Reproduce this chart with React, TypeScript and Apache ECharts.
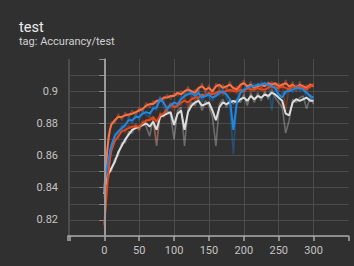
import React, { useEffect, useRef } from "react";
import * as echarts from "echarts";

const steps = [0, 2, 4, 6, 8, 10, 15, 20, 25, 30, 35, 40, 45, 50, 55, 60, 65, 70, 75, 80, 85, 90, 95, 100, 105, 110, 115, 120, 125, 130, 135, 140, 145, 150, 155, 160, 165, 170, 175, 180, 185, 190, 195, 200, 205, 210, 215, 220, 225, 230, 235, 240, 245, 250, 255, 260, 265, 270, 275, 280, 285, 290, 295, 300];

const orangeSmooth = [0.838, 0.85, 0.862, 0.87, 0.876, 0.879, 0.882, 0.884, 0.884, 0.885, 0.8855, 0.886, 0.887, 0.888, 0.889, 0.891, 0.892, 0.892, 0.894, 0.894, 0.896, 0.896, 0.897, 0.897, 0.899, 0.898, 0.9, 0.901, 0.9, 0.899, 0.902, 0.903, 0.901, 0.902, 0.9, 0.903, 0.904, 0.902, 0.903, 0.904, 0.902, 0.901, 0.904, 0.905, 0.903, 0.904, 0.902, 0.903, 0.904, 0.903, 0.905, 0.904, 0.905, 0.903, 0.904, 0.905, 0.903, 0.904, 0.902, 0.904, 0.903, 0.902, 0.904, 0.903];
const redSmooth = [0.817, 0.828, 0.84, 0.85, 0.857, 0.863, 0.869, 0.872, 0.875, 0.876, 0.877, 0.878, 0.878, 0.878, 0.88, 0.882, 0.882, 0.884, 0.881, 0.885, 0.886, 0.889, 0.892, 0.89, 0.891, 0.893, 0.894, 0.893, 0.895, 0.896, 0.896, 0.898, 0.897, 0.899, 0.898, 0.899, 0.9, 0.899, 0.9, 0.901, 0.9, 0.9, 0.901, 0.9, 0.902, 0.901, 0.901, 0.902, 0.901, 0.901, 0.902, 0.903, 0.902, 0.902, 0.903, 0.902, 0.901, 0.903, 0.902, 0.903, 0.902, 0.901, 0.903, 0.904];
const blueSmooth = [0.838, 0.848, 0.853, 0.857, 0.862, 0.866, 0.872, 0.875, 0.877, 0.879, 0.882, 0.882, 0.884, 0.884, 0.886, 0.887, 0.886, 0.889, 0.89, 0.895, 0.893, 0.889, 0.891, 0.893, 0.892, 0.895, 0.897, 0.898, 0.899, 0.897, 0.899, 0.896, 0.897, 0.898, 0.896, 0.897, 0.899, 0.9, 0.898, 0.895, 0.876, 0.893, 0.899, 0.901, 0.902, 0.903, 0.903, 0.904, 0.904, 0.905, 0.904, 0.903, 0.902, 0.898, 0.896, 0.9, 0.9, 0.901, 0.902, 0.902, 0.901, 0.899, 0.897, 0.896];
const greySmooth = [0.836, 0.842, 0.846, 0.849, 0.85, 0.852, 0.856, 0.862, 0.866, 0.87, 0.873, 0.876, 0.877, 0.878, 0.879, 0.88, 0.878, 0.881, 0.876, 0.884, 0.885, 0.886, 0.887, 0.879, 0.886, 0.888, 0.876, 0.887, 0.891, 0.893, 0.894, 0.891, 0.892, 0.893, 0.888, 0.882, 0.89, 0.893, 0.892, 0.893, 0.894, 0.893, 0.895, 0.896, 0.894, 0.897, 0.895, 0.897, 0.896, 0.898, 0.897, 0.899, 0.898, 0.896, 0.894, 0.886, 0.885, 0.893, 0.895, 0.894, 0.895, 0.896, 0.894, 0.894];

const orangeRaw = [0.836, 0.852, 0.86, 0.873, 0.874, 0.881, 0.88, 0.886, 0.882, 0.887, 0.884, 0.888, 0.885, 0.89, 0.887, 0.893, 0.89, 0.894, 0.892, 0.896, 0.894, 0.898, 0.895, 0.899, 0.897, 0.9, 0.898, 0.903, 0.898, 0.901, 0.9, 0.905, 0.899, 0.904, 0.898, 0.905, 0.902, 0.904, 0.901, 0.906, 0.9, 0.903, 0.902, 0.907, 0.901, 0.906, 0.9, 0.905, 0.902, 0.905, 0.903, 0.906, 0.903, 0.905, 0.902, 0.907, 0.901, 0.906, 0.9, 0.906, 0.901, 0.904, 0.902, 0.905];
const redRaw = [0.815, 0.826, 0.843, 0.848, 0.86, 0.861, 0.872, 0.87, 0.877, 0.874, 0.879, 0.876, 0.88, 0.875, 0.882, 0.88, 0.884, 0.882, 0.868, 0.887, 0.884, 0.891, 0.89, 0.888, 0.893, 0.891, 0.896, 0.89, 0.897, 0.894, 0.898, 0.896, 0.899, 0.897, 0.9, 0.897, 0.902, 0.897, 0.902, 0.899, 0.902, 0.898, 0.903, 0.898, 0.904, 0.899, 0.903, 0.9, 0.903, 0.899, 0.904, 0.901, 0.904, 0.9, 0.905, 0.888, 0.903, 0.901, 0.904, 0.901, 0.904, 0.899, 0.905, 0.903];
const blueRaw = [0.836, 0.846, 0.856, 0.854, 0.864, 0.864, 0.874, 0.873, 0.879, 0.877, 0.884, 0.88, 0.886, 0.882, 0.888, 0.885, 0.884, 0.891, 0.888, 0.897, 0.89, 0.886, 0.893, 0.891, 0.89, 0.897, 0.896, 0.9, 0.897, 0.895, 0.901, 0.893, 0.899, 0.896, 0.894, 0.899, 0.897, 0.902, 0.896, 0.89, 0.861, 0.895, 0.901, 0.899, 0.904, 0.901, 0.905, 0.902, 0.906, 0.903, 0.906, 0.888, 0.904, 0.895, 0.899, 0.898, 0.902, 0.899, 0.904, 0.9, 0.903, 0.895, 0.898, 0.894];
const greyRaw = [0.834, 0.84, 0.848, 0.846, 0.852, 0.85, 0.858, 0.86, 0.868, 0.868, 0.875, 0.874, 0.879, 0.876, 0.881, 0.878, 0.872, 0.883, 0.866, 0.886, 0.884, 0.888, 0.885, 0.87, 0.888, 0.89, 0.866, 0.889, 0.893, 0.891, 0.896, 0.888, 0.894, 0.891, 0.884, 0.866, 0.892, 0.895, 0.89, 0.895, 0.892, 0.895, 0.893, 0.898, 0.891, 0.899, 0.893, 0.899, 0.894, 0.9, 0.895, 0.901, 0.896, 0.893, 0.89, 0.874, 0.882, 0.895, 0.893, 0.896, 0.897, 0.889, 0.896, 0.892];

const titleText = "test";
const subtitleText = "tag: Accurancy/test";

const COLORS = {
  orange: "#ff7043",
  red: "#e6491b",
  blue: "#1e88e5",
  grey: "#dddddd",
};

function pairs(vals: number[]) {
  return steps.map((s, i) => [s, vals[i]]);
}

export default function App() {
  const ref = useRef<HTMLDivElement>(null);
  useEffect(() => {
    if (!ref.current) return;
    const chart = echarts.init(ref.current, undefined, { renderer: "svg" });
    const font = "Roboto";
    const rawSeries = (name: string, vals: number[], color: string, extra: any = {}) => ({
      type: "line",
      name: name + " raw",
      data: pairs(vals),
      showSymbol: false,
      symbol: "none",
      silent: true,
      lineStyle: { color, width: 1.6, opacity: 0.35 },
      z: 2,
      ...extra,
    });
    const smoothSeries = (name: string, vals: number[], color: string) => ({
      type: "line",
      name,
      data: pairs(vals),
      showSymbol: false,
      symbol: "none",
      silent: true,
      lineStyle: { color, width: 2 },
      z: 3,
    });
    chart.setOption({
      animation: false,
      backgroundColor: "#303030",
      textStyle: { fontFamily: font },
      graphic: [
        {
          type: "text",
          left: 19,
          top: 20,
          style: { text: titleText, fill: "#ececec", font: `14.5px ${font}` },
        },
        {
          type: "text",
          left: 19,
          top: 36,
          style: { text: subtitleText, fill: "#d0d0d0", font: `11px ${font}` },
        },
      ],
      grid: { left: 68, right: 5.5, top: 59, bottom: 30, containLabel: false },
      xAxis: {
        type: "value",
        min: -52,
        max: 350,
        minInterval: 50,
        maxInterval: 50,
        axisLine: { show: true, onZero: false, lineStyle: { color: "#a8a8a8", width: 1.5 } },
        axisTick: { show: true, length: 5, lineStyle: { color: "#a8a8a8", width: 1.5 } },
        axisLabel: {
          interval: 0,
          margin: 9,
          color: "#c4c4c4",
          fontSize: 11,
          fontFamily: font,
          formatter: (v: number) => (v >= 0 && v <= 300 && v % 50 === 0 ? String(v) : ""),
        },
        splitLine: { show: true, showMaxLine: false, lineStyle: { color: "#4c4c4c", width: 1 } },
      },
      yAxis: {
        type: "value",
        min: 0.81,
        max: 0.92,
        minInterval: 0.01,
        maxInterval: 0.01,
        axisLine: { show: true, lineStyle: { color: "#8e8e8e", width: 1.5 } },
        axisTick: { show: true, length: 5, lineStyle: { color: "#8e8e8e", width: 1 } },
        axisLabel: {
          interval: 0,
          margin: 10,
          color: "#c4c4c4",
          fontSize: 11,
          fontFamily: font,
          formatter: (v: number) => {
            const k = Math.round(v * 100);
            return k % 2 === 0 && k >= 82 && k <= 90 ? String(parseFloat(v.toFixed(2))) : "";
          },
        },
        splitLine: { show: true, showMaxLine: false, lineStyle: { color: "#4c4c4c", width: 1 } },
      },
      series: [
        rawSeries("grey", greyRaw, COLORS.grey, {
          markLine: {
            silent: true,
            symbol: ["none", "none"],
            label: { show: false },
            lineStyle: { color: "#9a9a9a", width: 2, type: "solid", opacity: 1 },
            data: [{ xAxis: 0 }],
          },
        }),
        rawSeries("orange", orangeRaw, COLORS.orange),
        rawSeries("red", redRaw, COLORS.red),
        rawSeries("blue", blueRaw, COLORS.blue),
        smoothSeries("grey", greySmooth, COLORS.grey),
        smoothSeries("orange", orangeSmooth, COLORS.orange),
        smoothSeries("red", redSmooth, COLORS.red),
        smoothSeries("blue", blueSmooth, COLORS.blue),
      ],
    });
    return () => chart.dispose();
  }, []);
  return (
    <div
      ref={ref}
      style={{ position: "fixed", left: 0, top: 0, width: 354, height: 266 }}
    />
  );
}
